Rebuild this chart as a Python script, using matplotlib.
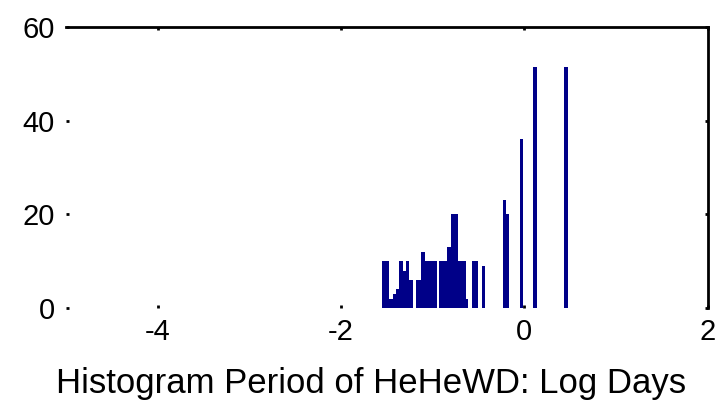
import matplotlib
matplotlib.use('Agg')
import matplotlib.pyplot as plt
import numpy as np

# bin edges (log days) and heights; gaps are zero bins
edges = [-1.552, -1.479, -1.435, -1.396, -1.363, -1.326, -1.286, -1.254,
         -1.213, -1.177, -1.122, -1.079, -0.951, -0.926, -0.842, -0.805,
         -0.721, -0.642, -0.612, -0.576, -0.503, -0.467, -0.426, -0.233,
         -0.200, -0.167, -0.049, -0.011, 0.098, 0.137, 0.437, 0.475]
counts = [10, 2, 3, 4, 10, 8, 10, 6,
          0, 6, 12, 10, 0, 10, 13, 20,
          10, 2, 0, 10, 0, 9, 0, 23,
          20, 0, 36, 0, 51.5, 0, 51.5]

xticks = [-4, -2, 0, 2]
yticks = [0, 20, 40, 60]
xlabel = 'Histogram Period of HeHeWD: Log Days'

plt.rcParams['axes.unicode_minus'] = False
plt.rcParams['font.family'] = ['Liberation Sans', 'DejaVu Sans']

fig = plt.figure(figsize=(7.15, 4.09), dpi=100)
ax = fig.add_axes([0.092, 0.247, 0.898, 0.687])

ax.stairs(counts, edges, fill=True, color='#000088', linewidth=0)

ax.set_xlim(-5, 2)
ax.set_ylim(0, 60)
ax.set_xticks(xticks)
ax.set_xticklabels([str(t) for t in xticks])
ax.set_yticks(yticks)
ax.set_yticklabels([str(t) for t in yticks])

# only top and right box lines are visible in the reference
ax.spines['left'].set_visible(False)
ax.spines['bottom'].set_visible(False)
for s in ['top', 'right']:
    ax.spines[s].set_linewidth(2)
    ax.spines[s].set_color('black')

ax.tick_params(axis='both', which='major', direction='in', length=2.5, width=2,
               labelsize=21, pad=8, colors='black')
ax.tick_params(top=True, right=True)
ax.xaxis.set_tick_params(which='major', pad=7)

ax.set_xlabel(xlabel, fontsize=25, va='center')
ax.xaxis.set_label_coords(0.475, -0.27)

fig.savefig('out.png', dpi=100)
